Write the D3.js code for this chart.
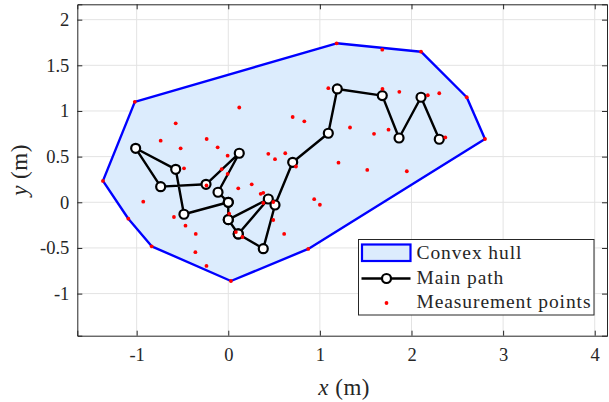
<!DOCTYPE html>
<html>
<head>
<meta charset="utf-8">
<script src="https://cdn.jsdelivr.net/npm/d3@7"></script>
<style>
  body { margin: 0; background: #fff; }
  text { font-family: "Liberation Serif", "DejaVu Serif", serif; fill: #262626; }
</style>
</head>
<body>
<div id="chart"></div>
<script>
let svgWidth = 609,
    svgHeight = 402

// axis limits (data units) and tick values
let xLimits = [-1.648, 4.134]
let yLimits = [-1.461, 2.168]
let xTicks = [-1, 0, 1, 2, 3, 4]
let yTicks = [-1, -0.5, 0, 0.5, 1, 1.5, 2]

// main path waypoints, in travel order
let pathX = [0, -0.484, -0.574, -1.011, -0.738, -0.243, 0.120, -0.112, 0, 0, 0.109, 0.437, 0, 0.109, 0.382, 0.510, 0.703, 1.092, 1.190, 1.681, 1.864, 2.104, 2.303]
let pathY = [0, -0.131, 0.361, 0.591, 0.171, 0.197, 0.537, 0.110, 0, -0.19, -0.347, 0.036, -0.19, -0.347, -0.508, -0.030, 0.438, 0.756, 1.241, 1.168, 0.704, 1.150, 0.690]

// measurement points
let measX = [-1.02, 1.183, 1.681, 2.104, 2.603, 2.802, 0.873, 0.029, -0.836, -1.091, -1.368,
    -0.738, -0.574, -0.520, -0.483, -0.236, -0.116, -0.007, -0.007, -0.072, -0.238, 0.120,
    0.109, 0.256, 0.354, 0.382, 0.437, 0.510, 0.622, 0.703, 0.830, 0.739, 0.938, 1.000,
    1.092, 1.683, 1.867, 2.178, 2.303, 1.329, 1.591, 1.749, 2.369, 1.203, 1.517, 1.949,
    -0.928, -0.593, -0.467, -0.355, -0.359, -0.238, 0.010, 0.083, 0.155, 0.382, 0.491, 0.491, 0.610]
let measY = [1.10, 1.741, 1.671, 1.649, 1.150, 0.693, -0.511, -0.862, -0.482, -0.180, 0.234,
    0.675, 0.865, 0.591, 0.372, 0.693, 0.602, 0.510, 0.310, 0.362, 0.184, 1.038,
    0.153, 0.197, 0.093, 0.104, 0.531, 0.472, 0.537, 0.934, 0.887, 0.392, 0.034, -0.027,
    1.249, 1.241, 1.210, 1.172, 1.194, 0.819, 0.750, 0.795, 0.710, 0.434, 0.354, 0.340,
    0.007, -0.161, -0.256, -0.347, -0.546, -0.697, -0.125, -0.326, -0.380, -0.008, 0.003, -0.194, -0.347]

let legendLabels = ["Convex hull", "Main path", "Measurement points"]

let margin = { top: 4.3, right: 2, bottom: 66.3, left: 77.3 }
let width = svgWidth - margin.left - margin.right
let height = svgHeight - margin.top - margin.bottom

let svg = d3.select("#chart")
    .append("svg")
    .attr("width", svgWidth)
    .attr("height", svgHeight)

let chartGroup = svg.append("g")
    .attr("transform", `translate(${margin.left}, ${margin.top})`)

let xScale = d3.scaleLinear().domain(xLimits).range([0, width])
let yScale = d3.scaleLinear().domain(yLimits).range([height, 0])

// grid
chartGroup.append("g")
    .selectAll("line.gx")
    .data(xTicks)
    .enter()
    .append("line")
    .attr("x1", d => xScale(d)).attr("x2", d => xScale(d))
    .attr("y1", 0).attr("y2", height)
    .attr("stroke", "#e3e3e3").attr("stroke-width", 1)
chartGroup.append("g")
    .selectAll("line.gy")
    .data(yTicks)
    .enter()
    .append("line")
    .attr("y1", d => yScale(d)).attr("y2", d => yScale(d))
    .attr("x1", 0).attr("x2", width)
    .attr("stroke", "#e3e3e3").attr("stroke-width", 1)

let measPts = measX.map((x, i) => [xScale(x), yScale(measY[i])])
let pathPts = pathX.map((x, i) => [xScale(x), yScale(pathY[i])])

// convex hull of the measurement points
let hull = d3.polygonHull(measPts)
chartGroup.append("path")
    .attr("d", "M" + hull.join("L") + "Z")
    .attr("fill", "rgb(220,236,253)")
    .attr("stroke", "#0000ff")
    .attr("stroke-width", 2.4)
    .attr("stroke-linejoin", "round")

// main path
chartGroup.append("path")
    .attr("d", d3.line()(pathPts))
    .attr("fill", "none")
    .attr("stroke", "#000")
    .attr("stroke-width", 2.4)
    .attr("stroke-linejoin", "round")
chartGroup.selectAll("circle.node")
    .data(pathPts)
    .enter()
    .append("circle")
    .attr("cx", d => d[0])
    .attr("cy", d => d[1])
    .attr("r", 4.5)
    .attr("fill", "#fff")
    .attr("stroke", "#000")
    .attr("stroke-width", 2.2)

// measurement points
chartGroup.selectAll("circle.meas")
    .data(measPts)
    .enter()
    .append("circle")
    .attr("cx", d => d[0])
    .attr("cy", d => d[1])
    .attr("r", 1.9)
    .attr("fill", "#ff0000")

// axes: ticks inside, on all four sides
let tickLen = 5
let fmt = d => d3.format("~g")(d).replace("−", "-")
let bottomAxis = d3.axisBottom(xScale).tickValues(xTicks).tickSize(-tickLen).tickPadding(12).tickFormat(fmt)
let topAxis = d3.axisTop(xScale).tickValues(xTicks).tickSize(-tickLen).tickFormat("")
let leftAxis = d3.axisLeft(yScale).tickValues(yTicks).tickSize(-tickLen).tickPadding(8).tickFormat(fmt)
let rightAxis = d3.axisRight(yScale).tickValues(yTicks).tickSize(-tickLen).tickFormat("")

function styleAxis(g) {
    g.selectAll("path").attr("stroke", "#262626").attr("stroke-width", 1)
    g.selectAll("line").attr("stroke", "#262626")
    g.selectAll("text")
        .attr("font-family", "Liberation Serif, serif")
        .attr("font-size", 18.5)
        .attr("fill", "#262626")
}

chartGroup.append("g")
    .attr("transform", `translate(0, ${height})`)
    .call(bottomAxis)
    .call(styleAxis)
chartGroup.append("g").call(topAxis).call(styleAxis)
chartGroup.append("g").call(leftAxis).call(styleAxis)
chartGroup.append("g").attr("transform", `translate(${width}, 0)`).call(rightAxis).call(styleAxis)

// axis labels
let xLabel = svg.append("text")
    .attr("x", margin.left + width / 2 + 2)
    .attr("y", 395)
    .attr("text-anchor", "middle")
    .attr("font-size", 23)
    .attr("letter-spacing", 0.5)
xLabel.append("tspan").attr("font-style", "italic").text("x")
xLabel.append("tspan").text(" (m)")

let yLabel = svg.append("text")
    .attr("transform", `translate(27, ${margin.top + height / 2}) rotate(-90)`)
    .attr("text-anchor", "middle")
    .attr("font-size", 23)
    .attr("letter-spacing", 0.5)
yLabel.append("tspan").attr("font-style", "italic").text("y")
yLabel.append("tspan").text(" (m)")

// legend
let legend = svg.append("g").attr("transform", "translate(358.5, 239.5)")
legend.append("rect")
    .attr("width", 235.5).attr("height", 75.5)
    .attr("fill", "#fff")
    .attr("stroke", "#262626").attr("stroke-width", 1)
legend.append("rect")
    .attr("x", 3.5).attr("y", 5).attr("width", 48.5).attr("height", 16.5)
    .attr("fill", "rgb(220,236,253)")
    .attr("stroke", "#0000ff").attr("stroke-width", 2.2)
legend.append("line")
    .attr("x1", 3).attr("x2", 52).attr("y1", 39).attr("y2", 39)
    .attr("stroke", "#000").attr("stroke-width", 2.4)
legend.append("circle")
    .attr("cx", 28).attr("cy", 39).attr("r", 4.5)
    .attr("fill", "#fff").attr("stroke", "#000").attr("stroke-width", 2.2)
legend.append("circle")
    .attr("cx", 28).attr("cy", 63.5).attr("r", 1.9)
    .attr("fill", "#ff0000")
legend.selectAll("text.lg")
    .data(legendLabels)
    .enter()
    .append("text")
    .attr("x", 58)
    .attr("y", (d, i) => 19.5 + i * 24.5)
    .attr("font-size", 19.5)
    .attr("letter-spacing", 0.9)
    .text(d => d)
</script>
</body>
</html>
